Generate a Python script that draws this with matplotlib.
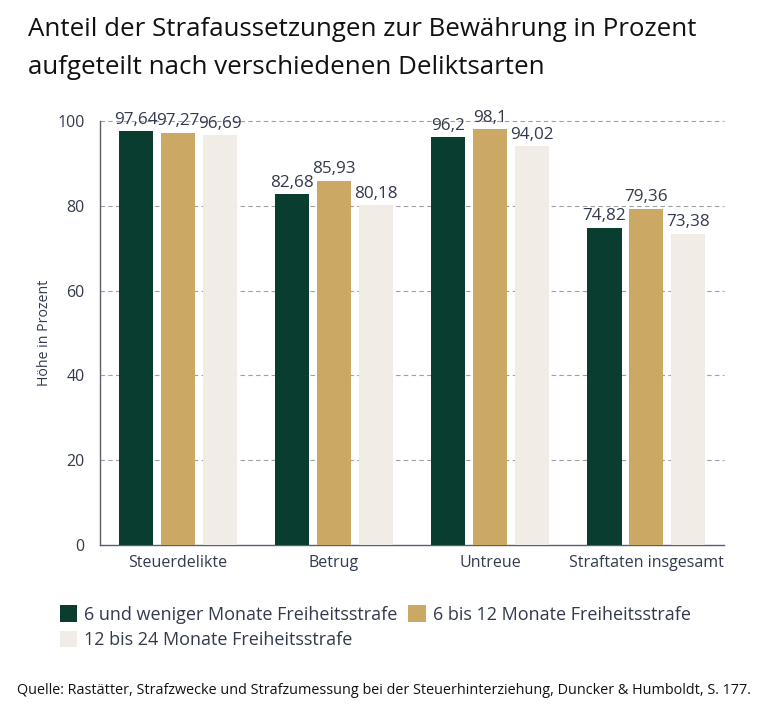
import numpy as np
import matplotlib.pyplot as plt

plt.rcParams['font.family'] = ['Open Sans', 'DejaVu Sans']

categories = ['Steuerdelikte', 'Betrug', 'Untreue', 'Straftaten insgesamt']
series_names = ['6 und weniger Monate Freiheitsstrafe',
                '6 bis 12 Monate Freiheitsstrafe',
                '12 bis 24 Monate Freiheitsstrafe']
values_6 = [97.64, 82.68, 96.2, 74.82]
values_12 = [97.27, 85.93, 98.1, 79.36]
values_24 = [96.69, 80.18, 94.02, 73.38]
labels_6 = ['97,64', '82,68', '96,2', '74,82']
labels_12 = ['97,27', '85,93', '98,1', '79,36']
labels_24 = ['96,69', '80,18', '94,02', '73,38']
colors = ['#083d2f', '#cba965', '#f1ece6']
text_col = '#333a4d'

fig = plt.figure(figsize=(7.68, 7.09), dpi=100)
ax = fig.add_axes([0.130, 0.2313, 0.813, 0.598])

x = np.arange(len(categories))
w = 0.22
off = 0.268
handles = []
for i, (vals, labs) in enumerate([(values_6, labels_6), (values_12, labels_12), (values_24, labels_24)]):
    bars = ax.bar(x + (i - 1) * off, vals, width=w, color=colors[i], label=series_names[i], zorder=3)
    handles.append(bars)
    for b, lab in zip(bars, labs):
        ax.annotate(lab, (b.get_x() + b.get_width() / 2, b.get_height()),
                    xytext=(0, 2.5), textcoords='offset points', ha='center', va='bottom',
                    fontsize=12.3, color=text_col, annotation_clip=False)

ax.set_xlim(-0.5, 3.5)
ax.set_ylim(0, 100)
ax.set_yticks([0, 20, 40, 60, 80, 100])
ax.set_xticks(x)
ax.set_xticklabels(categories)
ax.tick_params(axis='both', length=0, labelsize=11.5, colors=text_col)
ax.tick_params(axis='y', pad=11)
ax.tick_params(axis='x', pad=7)
for y in [20, 40, 60, 80, 100]:
    ax.axhline(y, color='#a0a0a0', linestyle=(0, (4, 3)), linewidth=0.8, zorder=1, clip_on=False)
for s in ['top', 'right']:
    ax.spines[s].set_visible(False)
for s in ['left', 'bottom']:
    ax.spines[s].set_color('#5a5f6e')
    ax.spines[s].set_linewidth(1.0)
ax.set_ylabel('Höhe in Prozent', fontsize=10.2, color=text_col, labelpad=4)

fig.text(0.036, 0.949, 'Anteil der Strafaussetzungen zur Bewährung in Prozent',
         fontsize=18.6, color='#111111', va='baseline')
fig.text(0.036, 0.896, 'aufgeteilt nach verschiedenen Deliktsarten',
         fontsize=18.6, color='#111111', va='baseline')

fig.legend([handles[0], handles[2], handles[1]],
           [series_names[0], series_names[2], series_names[1]],
           ncol=2, loc='upper left', bbox_to_anchor=(0.078, 0.146), frameon=False,
           fontsize=13, handlelength=0.95, handleheight=1.0, handletextpad=0.4,
           columnspacing=0.6, labelspacing=0.38, borderaxespad=0, borderpad=0,
           labelcolor=text_col)

fig.text(0.5, 0.021, 'Quelle: Rastätter, Strafzwecke und Strafzumessung bei der Steuerhinterziehung, Duncker & Humboldt, S. 177.',
         fontsize=10.4, color='#111111', ha='center', va='baseline')

fig.savefig('out.png', dpi=100)
